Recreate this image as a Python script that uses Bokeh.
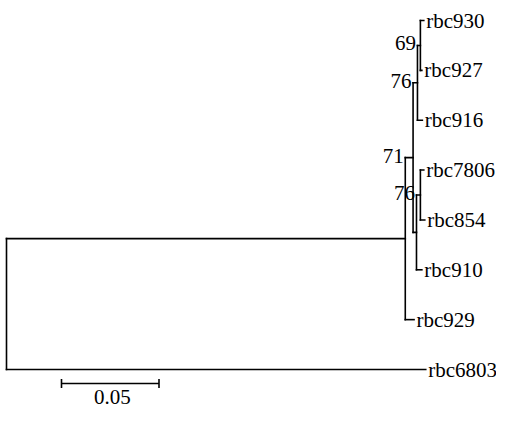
from bokeh.plotting import figure
from bokeh.models import Range1d, ColumnDataSource
from bokeh.embed import file_html
from bokeh.resources import INLINE
from bokeh.core.properties import value

# ---- data: tree topology, branch lengths, bootstrap support ----
leaf_names = ["rbc930", "rbc927", "rbc916", "rbc7806", "rbc854", "rbc910", "rbc929", "rbc6803"]
edge_parent = ["root", "root", "F", "F", "E", "E", "B", "B", "A", "A", "D", "D", "C", "C"]
edge_child = ["F", "rbc6803", "E", "rbc929", "B", "D", "A", "rbc916",
              "rbc930", "rbc927", "C", "rbc910", "rbc7806", "rbc854"]
branch_length = [0.2045, 0.215, 0.004, 0.0045, 0.00225, 0.00175, 0.0015, 0.0025,
                 0.00175, 0.00075, 0.002, 0.00275, 0.00175, 0.00225]
support_nodes = ["A", "B", "E", "C"]
support_values = ["69", "76", "71", "76"]
scale_length = 0.05
scale_label = "0.05"

# ---- layout constants (frame pixels) ----
W, H = 496, 408
UX = 1950.0            # px per unit branch length
ROOT_PX = 6.0          # frame px of root
TOP_PX, BOT_PX = 20.0, 369.0
n_leaf = len(leaf_names)
PY = (BOT_PX - TOP_PX) / (n_leaf - 1)   # px per leaf index

x0 = -ROOT_PX / UX
x1 = x0 + W / UX
y_top = -TOP_PX / PY
y_bot = (n_leaf - 1) + (H - BOT_PX) / PY

def fx(px):   # frame px -> data x
    return (px - ROOT_PX) / UX

def fy(py):   # frame px -> data y (leaf index)
    return (py - TOP_PX) / PY

# ---- compute node coordinates ----
children = {}
blen = {}
parent_of = {}
for pa, ch, bl in zip(edge_parent, edge_child, branch_length):
    children.setdefault(pa, []).append(ch)
    blen[ch] = bl
    parent_of[ch] = pa

xpos = {"root": 0.0}
def set_x(n):
    for c in children.get(n, []):
        xpos[c] = xpos[n] + blen[c]
        set_x(c)
set_x("root")

ypos = {name: i for i, name in enumerate(leaf_names)}
def set_y(n):
    if n in ypos:
        return ypos[n]
    ys = [set_y(c) for c in children[n]]
    ypos[n] = (min(ys) + max(ys)) / 2.0
    return ypos[n]
set_y("root")

seg = dict(x0=[], y0=[], x1=[], y1=[])
for pa, ch in zip(edge_parent, edge_child):
    seg["x0"].append(xpos[pa]); seg["x1"].append(xpos[ch])
    seg["y0"].append(ypos[ch]); seg["y1"].append(ypos[ch])
for n, chs in children.items():
    ys = [ypos[c] for c in chs]
    seg["x0"].append(xpos[n]); seg["x1"].append(xpos[n])
    seg["y0"].append(min(ys)); seg["y1"].append(max(ys))

p = figure(width=W, height=H, output_backend="svg", toolbar_location=None,
           x_range=Range1d(x0, x1), y_range=Range1d(y_bot, y_top),
           min_border=0, outline_line_color=None)
p.axis.visible = False
p.grid.visible = False
p.background_fill_color = "white"
p.border_fill_color = "white"

p.segment(x0="x0", y0="y0", x1="x1", y1="y1", source=ColumnDataSource(seg),
          line_color="#000000", line_width=1.6, line_cap="square")

FONT = value("Liberation Serif")
FS = "21px"

leaf_src = ColumnDataSource(dict(x=[xpos[n] for n in leaf_names],
                                 y=[ypos[n] for n in leaf_names],
                                 t=leaf_names))
p.text(x="x", y="y", text="t", source=leaf_src, text_font=FONT, text_font_size=FS,
       text_align="left", text_baseline="middle", x_offset=2.5, text_color="#000000")

sup_src = ColumnDataSource(dict(x=[xpos[parent_of[n]] - 1.5 / UX for n in support_nodes],
                                y=[ypos[n] - 2.0 / PY for n in support_nodes],
                                t=support_values))
p.text(x="x", y="y", text="t", source=sup_src, text_font=FONT, text_font_size=FS,
       text_align="right", text_baseline="alphabetic", text_color="#000000")

# ---- scale bar ----
sb_x = fx(61.0)
sb_y = fy(383.0)
tick = 4.5 / PY
sb = dict(x0=[sb_x, sb_x, sb_x + scale_length],
          y0=[sb_y, sb_y - tick, sb_y - tick],
          x1=[sb_x + scale_length, sb_x, sb_x + scale_length],
          y1=[sb_y, sb_y + tick, sb_y + tick])
p.segment(x0="x0", y0="y0", x1="x1", y1="y1", source=ColumnDataSource(sb),
          line_color="#000000", line_width=1.6)
p.text(x=[sb_x + scale_length / 2 + 2.0 / UX], y=[fy(396.0)],
       text=[scale_label], text_font=FONT, text_font_size=FS,
       text_align="center", text_baseline="middle", text_color="#000000")

open("out.html", "w").write(file_html(p, INLINE))
